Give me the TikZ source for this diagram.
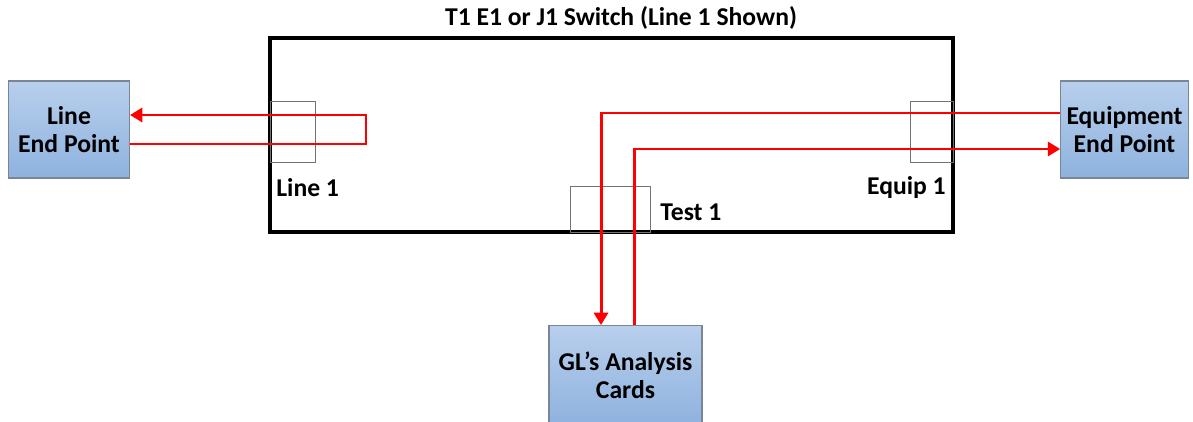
\documentclass[tikz,border=0pt]{standalone}
\usepackage{fontspec}
\setmainfont{Carlito}
\usetikzlibrary{arrows.meta}
\definecolor{boxtop}{HTML}{B8CFEC}
\definecolor{boxbot}{HTML}{8EB2DE}
\definecolor{boxedge}{HTML}{7A8597}
\definecolor{sig}{HTML}{FF0000}
\begin{document}
\begin{tikzpicture}[x=0.02cm,y=-0.02cm,
  endbox/.style={draw=boxedge,line width=0.6pt,top color=boxtop,bottom color=boxbot,
    minimum width=2.42cm,minimum height=1.94cm,align=center,font=\fontsize{14.6}{16}\selectfont\bfseries},
  port/.style={draw=black!55,line width=0.5pt},
  lbl/.style={font=\fontsize{14.6}{16}\selectfont\bfseries,inner sep=0pt},
  wire/.style={draw=sig,line width=1.7pt},
  tip/.style={-{Triangle[length=7pt,width=8pt]}}]
\useasboundingbox (0,0) rectangle (1193,422);
% switch frame
\draw[line width=1.9pt] (270,38) rectangle (953,232);
\node[lbl] (title) at (621,18) {T1 E1 or J1 Switch (Line 1 Shown)};
% ports
\draw[port] (270,101) rectangle (315,162);
\draw[port] (570,186) rectangle (650,232);
\draw[port] (910,101) rectangle (953,162);
\node[lbl,anchor=west] (l1) at (276,188) {Line 1};
\node[lbl,anchor=west] (t1) at (660,212) {Test 1};
\node[lbl,anchor=east] (e1) at (946,188) {Equip 1};
% end points
\node[endbox] (line) at (69,129.5) {Line\\End Point};
\node[endbox] (equip) at (1124.5,129.5) {Equipment\\End Point};
\node[endbox,minimum width=3.06cm,minimum height=2.0cm,anchor=north] (gl) at (625.5,325) {GL’s Analysis\\Cards};
% line loopback
\coordinate (lp1) at (366,115);
\coordinate (lp2) at (366,144);
\draw[wire,tip] (line.east |- lp2) -- (lp2) -- (lp1) -- (line.east |- lp1);
% equipment through test port
\coordinate (a1) at (601,113);
\coordinate (b1) at (634,149);
\draw[wire,tip] (equip.west |- a1) -- (a1) -- (a1 |- gl.north);
\draw[wire,tip] (b1 |- gl.north) -- (b1) -- (equip.west |- b1);
\end{tikzpicture}
\end{document}
